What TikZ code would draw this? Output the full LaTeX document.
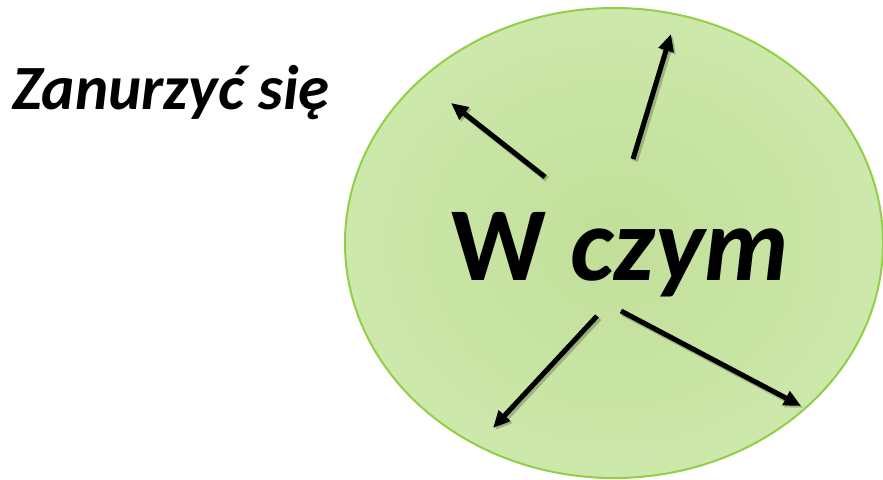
\documentclass[tikz,border=0pt]{standalone}
\usepackage{xcolor}
\usepackage{tikz}
\usepackage{fontspec}
\setmainfont{Carlito}
\usetikzlibrary{shapes.geometric, arrows.meta, positioning}
\definecolor{bubbleInner}{RGB}{193, 223, 153}
\definecolor{bubbleOuter}{RGB}{205, 232, 171}
\definecolor{bubbleEdge}{RGB}{146, 206, 70}

\begin{document}
\begin{tikzpicture}[x=1pt, y=-1pt,
        spoke/.style={line width=5pt, -{Triangle[length=17pt, width=15pt]},
            preaction={draw=black, opacity=0.22, line width=6pt,
                -{Triangle[length=17pt, width=15pt]},
                transform canvas={shift={(2pt,-2pt)}}}}]
        \useasboundingbox (0,0) rectangle (883,479);

        % Green bubble
        \node[ellipse, draw=bubbleEdge, line width=2pt, shading=radial,
              inner color=bubbleInner, outer color=bubbleOuter,
              minimum width=538pt, minimum height=470pt, inner sep=0pt]
              (bubble) at (614,243) {};

        % Labels
        \node[anchor=base west, inner sep=0pt,
              font=\fontsize{63}{70}\selectfont\bfseries\itshape]
              (verb) at (12,109) {Zanurzyć się};
        \node[anchor=base, inner sep=0pt,
              font=\fontsize{105}{110}\selectfont\bfseries]
              (what) at (620,280) {W \textit{czym}};

        % 4 spokes
        \foreach \i/\tx/\ty/\hx/\hy in {
            1/545/177/451/103,
            2/633/159/671/34,
            3/597/316/493/428,
            4/621/311/801/406
        } {
            \coordinate (tail\i) at (\tx,\ty);
            \coordinate (head\i) at (\hx,\hy);
            \draw[spoke] (tail\i) -- (head\i);
        }
    \end{tikzpicture}
\end{document}
